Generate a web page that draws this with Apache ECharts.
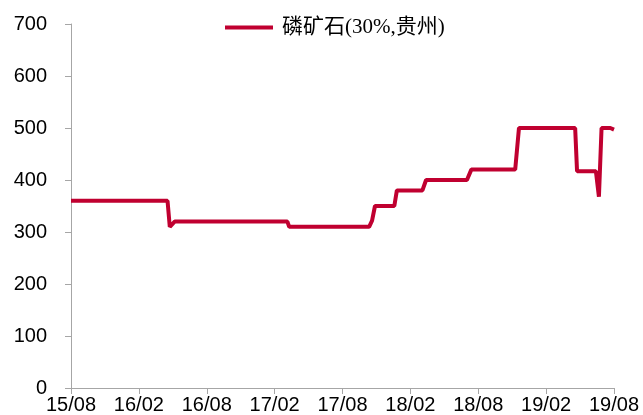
<!DOCTYPE html>
<html>
<head>
<meta charset="utf-8">
<script src="https://cdn.jsdelivr.net/npm/echarts@6/dist/echarts.min.js"></script>
<style>html,body{margin:0;padding:0;background:#fff;}#c{width:643px;height:415px;}</style>
</head>
<body>
<div id="c"></div>
<script>
const seriesName = '磷矿石(30%,贵州)';
const tickLabels = ['15/08','16/02','16/08','17/02','17/08','18/02','18/08','19/02','19/08'];
const dates = ['2015-08-01','2016-04-17','2016-04-23','2016-05-06','2017-03-05','2017-03-10','2017-10-12','2017-10-20','2017-10-28','2017-12-19','2017-12-26','2018-03-03','2018-03-13','2018-07-01','2018-07-13','2018-11-09','2018-11-19','2019-04-18','2019-04-23','2019-06-13','2019-06-21','2019-06-28','2019-07-22','2019-08-01'];
const values = [360,360,310,320,320,310,310,322,350,350,380,380,400,400,420,420,500,500,417,417,368,500,500,497];

function monthOffset(s){
  const [y,m,d] = s.split('-').map(Number);
  const dim = new Date(y, m, 0).getDate();
  return (y-2015)*12 + (m-8) + (d-1)/dim;
}
const data = dates.map((d,i)=>[monthOffset(d), values[i]]);

const chart = echarts.init(document.getElementById('c'));
chart.setOption({
  animation:false,
  grid:{left:71,right:29,top:24,bottom:26,containLabel:false},
  legend:{
    left:225, top:17, padding:0,
    icon:'rect',
    itemWidth:48, itemHeight:4, itemGap:10,
    textStyle:{fontFamily:'Liberation Serif, "Noto Sans CJK SC"', fontSize:21, color:'#000', padding:[0,0,0,4]},
    data:[seriesName]
  },
  xAxis:{
    type:'value', min:0, max:48, interval:6,
    axisLine:{show:true,lineStyle:{color:'#A6A6A6',width:1}},
    axisTick:{show:true,length:6,lineStyle:{color:'#A6A6A6'}},
    splitLine:{show:false},
    axisLabel:{
      margin:7, fontSize:20, color:'#000', fontFamily:'Liberation Sans, Arial',
      formatter:(v)=>tickLabels[Math.round(v/6)] || ''
    }
  },
  yAxis:{
    type:'value', min:0, max:700, interval:100,
    axisLine:{show:true,lineStyle:{color:'#A6A6A6',width:1}},
    axisTick:{show:true,length:6,lineStyle:{color:'#A6A6A6'}},
    splitLine:{show:false},
    axisLabel:{margin:24, fontSize:20, color:'#000', fontFamily:'Liberation Sans, Arial'}
  },
  series:[{
    name:seriesName, type:'line', data:data,
    showSymbol:false, symbol:'none',
    lineStyle:{color:'#C00030',width:4},
    itemStyle:{color:'#C00030'}
  }]
});
</script>
</body>
</html>
